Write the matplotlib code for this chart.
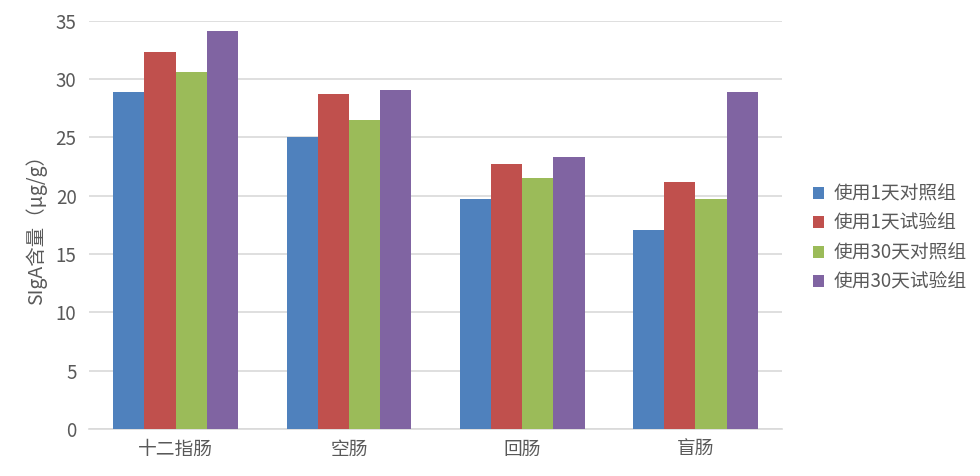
import matplotlib.pyplot as plt
import numpy as np

plt.rcParams['font.family'] = ['Noto Sans CJK SC', 'DejaVu Sans']

# data
categories = ['十二指肠', '空肠', '回肠', '盲肠']
series_names = ['使用1天对照组', '使用1天试验组', '使用30天对照组', '使用30天试验组']
day1_control = [28.9, 25.0, 19.7, 17.1]
day1_test = [32.3, 28.7, 22.7, 21.2]
day30_control = [30.6, 26.5, 21.5, 19.7]
day30_test = [34.1, 29.1, 23.3, 28.9]
yticks = [0, 5, 10, 15, 20, 25, 30, 35]

series = [day1_control, day1_test, day30_control, day30_test]
colors = ['#4F81BD', '#C0504D', '#9BBB59', '#8064A2']
gray = '#595959'

fig = plt.figure(figsize=(9.8, 4.76), dpi=100)
ax = fig.add_axes([0.0908, 0.0987, 0.7072, 0.8578])

x = np.arange(len(categories))
width = 0.18
for i, (vals, name, c) in enumerate(zip(series, series_names, colors)):
    ax.bar(x + (i - 1.5) * width, vals, width, color=c, label=name, zorder=3)

ax.set_xlim(-0.5, len(categories) - 0.5)
ax.set_ylim(0, 35)
ax.set_yticks(yticks)
ax.yaxis.grid(True, color='#d9d9d9', linewidth=1.2, zorder=0)
for s in ['top', 'right', 'left']:
    ax.spines[s].set_visible(False)
ax.spines['bottom'].set_color('#d9d9d9')
ax.spines['bottom'].set_linewidth(1.2)
ax.tick_params(axis='both', length=0, colors=gray, labelsize=13.5)
ax.tick_params(axis='y', pad=9)
ax.tick_params(axis='x', pad=7)
ax.set_xticks(x)
ax.set_xticklabels(categories)
ax.set_ylabel('SIgA含量（μg/g）', color=gray, fontsize=14, labelpad=6)

fig.legend(loc='center left', bbox_to_anchor=(0.812, 0.5), frameon=False,
           fontsize=13.5, labelcolor=gray, handlelength=0.6, handleheight=0.6,
           handletextpad=0.5, labelspacing=0.45)

plt.savefig('out.png', dpi=100)
